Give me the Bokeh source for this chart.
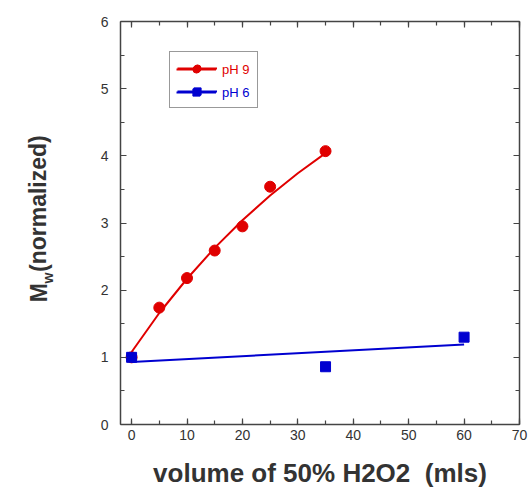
from bokeh.plotting import figure
from bokeh.layouts import row
from bokeh.models import (LinearAxis, SingleIntervalTicker, Legend, LegendItem, Label)
from bokeh.embed import file_html
from bokeh.resources import INLINE

# data
x_ph9 = [0, 5, 10, 15, 20, 25, 35]
y_ph9 = [1.0, 1.74, 2.18, 2.59, 2.95, 3.54, 4.07]
fit_ph9_x = [0, 5, 10, 15, 20, 25, 30, 35]
fit_ph9_y = [1.08, 1.66, 2.17, 2.63, 3.04, 3.41, 3.74, 4.04]

x_ph6 = [0, 35, 60]
y_ph6 = [1.0, 0.86, 1.3]
fit_ph6_x = [0, 60]
fit_ph6_y = [0.93, 1.19]

RED = "#e00000"
BLUE = "#0000d0"
AX = "#444444"
TXT = "#333333"
FONT = "Liberation Sans"

LW = 60  # width of the y-label strip

p = figure(width=528 - LW, height=490, x_range=(-2, 70), y_range=(0, 6),
           output_backend="svg", toolbar_location=None,
           min_border_left=120 - LW, min_border_right=9, min_border_top=21,
           min_border_bottom=65, x_axis_type=None, y_axis_type=None)
p.outline_line_color = None
p.xgrid.visible = False
p.ygrid.visible = False


def style_axis(ax, labels=True):
    ax.axis_line_color = AX
    ax.axis_line_width = 1.5
    ax.major_tick_line_color = AX
    ax.minor_tick_line_color = AX
    ax.major_tick_line_width = 1.2
    ax.minor_tick_line_width = 1.2
    ax.major_tick_in = 6
    ax.major_tick_out = 0
    ax.minor_tick_in = 4
    ax.minor_tick_out = 0
    if labels:
        ax.major_label_text_font = FONT
        ax.major_label_text_font_size = "14px"
        ax.major_label_text_color = TXT
    else:
        ax.major_label_text_font_size = "0px"
        ax.major_label_text_alpha = 0
        ax.major_label_standoff = 0


xb = LinearAxis(ticker=SingleIntervalTicker(interval=10, num_minor_ticks=2))
style_axis(xb)
xb.major_label_standoff = 5
xb.axis_label = "volume of 50% H2O2\u00a0\u00a0(mls)"
xb.axis_label_text_font = FONT
xb.axis_label_text_font_style = "bold"
xb.axis_label_text_font_size = "26px"
xb.axis_label_text_color = TXT
xb.axis_label_text_line_height = 1.0
xb.axis_label_standoff = 15
p.add_layout(xb, "below")

yl = LinearAxis(ticker=SingleIntervalTicker(interval=1, num_minor_ticks=2))
style_axis(yl)
yl.major_label_standoff = 12
p.add_layout(yl, "left")

xt = LinearAxis(ticker=SingleIntervalTicker(interval=10, num_minor_ticks=2))
style_axis(xt, labels=False)
p.add_layout(xt, "above")

yr = LinearAxis(ticker=SingleIntervalTicker(interval=1, num_minor_ticks=2))
style_axis(yr, labels=False)
p.add_layout(yr, "right")

# data
l9 = p.line(fit_ph9_x, fit_ph9_y, line_color=RED, line_width=2)
s9 = p.scatter(x_ph9, y_ph9, marker="circle", size=11, fill_color=RED, line_color=RED)
l6 = p.line(fit_ph6_x, fit_ph6_y, line_color=BLUE, line_width=2)
s6 = p.scatter(x_ph6, y_ph6, marker="square", size=10, fill_color=BLUE, line_color=BLUE)

PAD = 7
SP = 5
GH = 18
leg_common = dict(glyph_width=40, glyph_height=GH, label_height=GH,
                  label_standoff=6, label_text_font=FONT,
                  label_text_font_size="13px")
legA = Legend(items=[LegendItem(label="pH 9", renderers=[l9, s9]),
                     LegendItem(label="pH 6", renderers=[l6, s6])],
              location=(49, 316), padding=PAD, spacing=SP,
              border_line_color="#333333", border_line_width=1.5,
              background_fill_alpha=1, label_text_alpha=0, **leg_common)
legB = Legend(items=[LegendItem(label="pH 9", renderers=[l9, s9])],
              location=(49 + PAD, 316 + PAD + GH + SP), padding=0, spacing=0,
              border_line_alpha=0, background_fill_alpha=0,
              label_text_color=RED, **leg_common)
legC = Legend(items=[LegendItem(label="pH 6", renderers=[l6, s6])],
              location=(49 + PAD, 316 + PAD), padding=0, spacing=0,
              border_line_alpha=0, background_fill_alpha=0,
              label_text_color=BLUE, **leg_common)
p.add_layout(legA, "center")
p.add_layout(legB, "center")
p.add_layout(legC, "center")

# y-axis title strip (M with subscript w); shares the y scale of the plot
q = figure(width=LW, height=490, x_range=(0, LW), y_range=p.y_range,
           output_backend="svg", toolbar_location=None,
           min_border=0, x_axis_type=None, y_axis_type=None)
q.outline_line_color = None
q.xgrid.visible = False
q.ygrid.visible = False
common = dict(angle=1.5708, text_font=FONT, text_font_style="bold",
              text_color=TXT, text_align="left", text_baseline="alphabetic")
q.add_layout(Label(x=38, y=1.82, text="M", text_font_size="23px", **common))
q.add_layout(Label(x=47, y=2.10, text="w", text_font_size="14px", **common))
q.add_layout(Label(x=38, y=2.27, text="(normalized)", text_font_size="23px", **common))

layout = row(q, p, spacing=0)
open("out.html", "w").write(file_html(layout, INLINE))
